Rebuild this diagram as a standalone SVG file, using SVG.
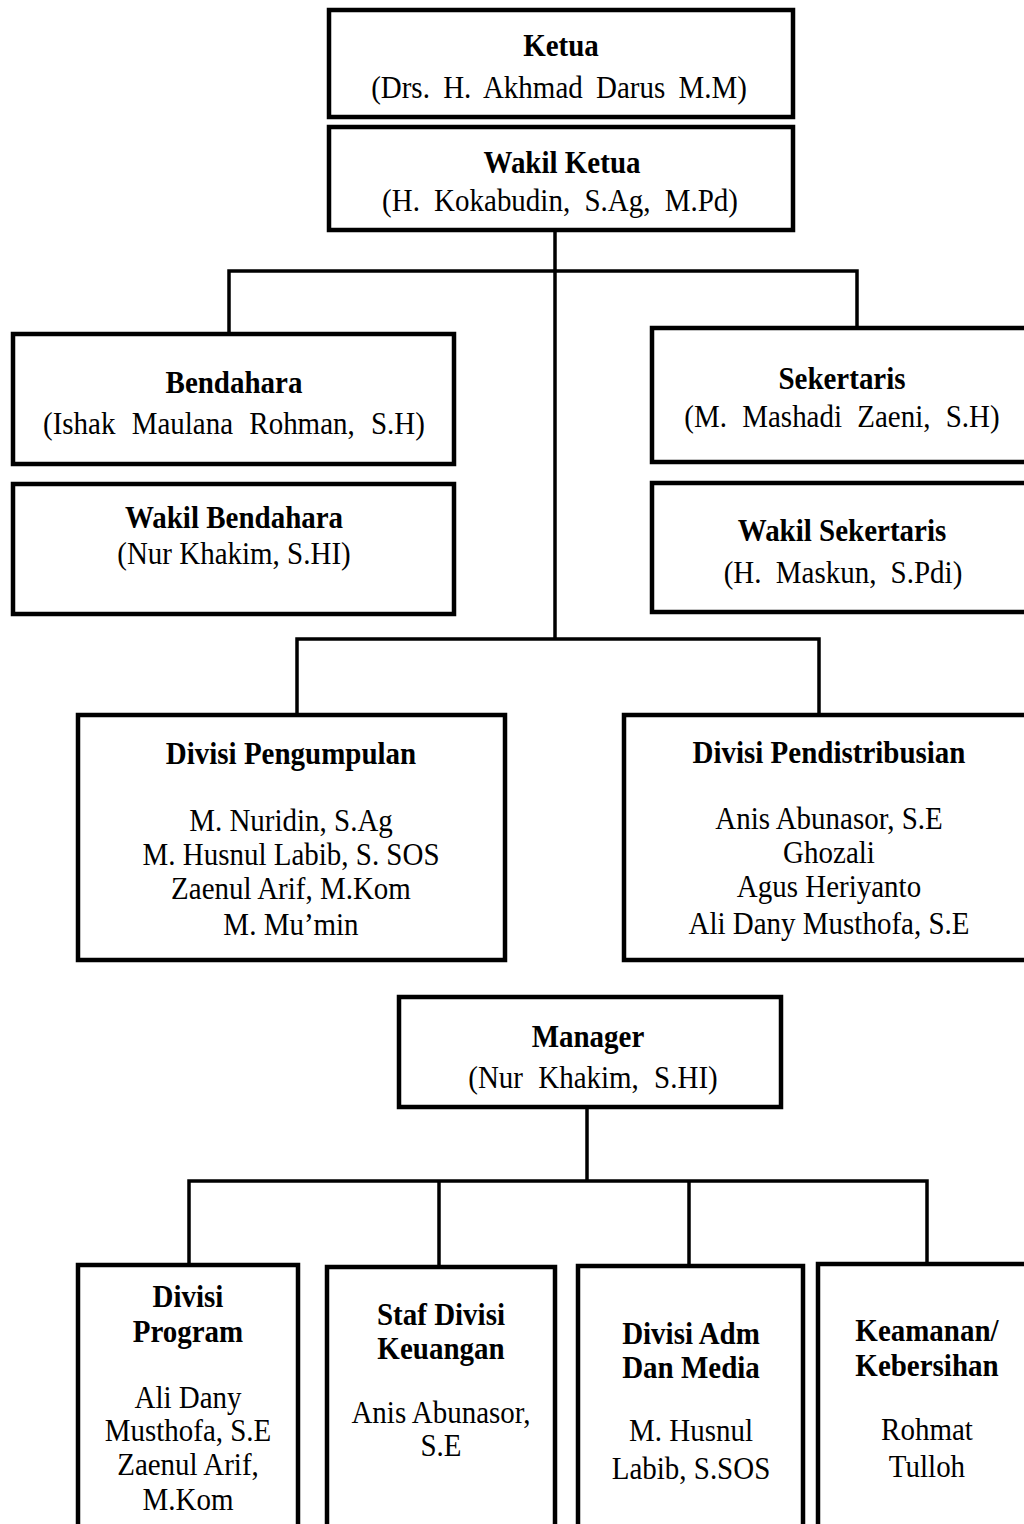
<svg xmlns="http://www.w3.org/2000/svg" width="1024" height="1524" viewBox="0 0 1024 1524">
  <style>
    .box { fill: #ffffff; stroke: #000000; stroke-width: 4.5; }
    .link { fill: none; stroke: #000000; stroke-width: 3.5; }
    text { font-family: "Liberation Serif", "Times New Roman", serif; font-size: 29px; fill: #000000; text-anchor: middle;
           transform-box: fill-box; transform-origin: center bottom; transform: translateY(1.5px) scaleY(1.12); }
    .t { font-weight: bold; }
  </style>
  <rect width="1024" height="1524" fill="#ffffff"/>

  <!-- connectors -->
  <g id="connectors">
    <path class="link" d="M555 230 V639"/>
    <path class="link" d="M229 334 V271 H857 V328"/>
    <path class="link" d="M297 715 V639 H819 V715"/>
    <path class="link" d="M587 1107 V1181"/>
    <path class="link" d="M189 1265 V1181 H927 V1264"/>
    <path class="link" d="M439 1181 V1267"/>
    <path class="link" d="M689 1181 V1266"/>
  </g>

  <g id="ketua">
    <rect class="box" x="329" y="10" width="464" height="107"/>
    <text class="t" x="561" y="55">Ketua</text>
    <text x="559" y="97" style="word-spacing:6px">(Drs. H. Akhmad Darus M.M)</text>
  </g>

  <g id="wakil-ketua">
    <rect class="box" x="329" y="127" width="464" height="103"/>
    <text class="t" x="562" y="172">Wakil Ketua</text>
    <text x="560" y="210" style="word-spacing:7px">(H. Kokabudin, S.Ag, M.Pd)</text>
  </g>

  <g id="bendahara">
    <rect class="box" x="13" y="334" width="441" height="130"/>
    <text class="t" x="234" y="392">Bendahara</text>
    <text x="234" y="433" style="word-spacing:9px">(Ishak Maulana Rohman, S.H)</text>
  </g>

  <g id="wakil-bendahara">
    <rect class="box" x="13" y="484" width="441" height="130"/>
    <text class="t" x="234" y="527">Wakil Bendahara</text>
    <text x="234" y="563">(Nur Khakim, S.HI)</text>
  </g>

  <g id="sekertaris">
    <rect class="box" x="652" y="328" width="380" height="134"/>
    <text class="t" x="842" y="388">Sekertaris</text>
    <text x="842" y="426" style="word-spacing:8px">(M. Mashadi Zaeni, S.H)</text>
  </g>

  <g id="wakil-sekertaris">
    <rect class="box" x="652" y="483" width="380" height="129"/>
    <text class="t" x="842" y="540">Wakil Sekertaris</text>
    <text x="843" y="582" style="word-spacing:7px">(H. Maskun, S.Pdi)</text>
  </g>

  <g id="divisi-pengumpulan">
    <rect class="box" x="78" y="715" width="427" height="245"/>
    <text class="t" x="291" y="763">Divisi Pengumpulan</text>
    <text x="291" y="830">M. Nuridin, S.Ag</text>
    <text x="291" y="864">M. Husnul Labib, S. SOS</text>
    <text x="291" y="898">Zaenul Arif, M.Kom</text>
    <text x="291" y="934">M. Mu’min</text>
  </g>

  <g id="divisi-pendistribusian">
    <rect class="box" x="624" y="715" width="410" height="245"/>
    <text class="t" x="829" y="762">Divisi Pendistribusian</text>
    <text x="829" y="828">Anis Abunasor, S.E</text>
    <text x="829" y="862">Ghozali</text>
    <text x="829" y="896">Agus Heriyanto</text>
    <text x="829" y="933">Ali Dany Musthofa, S.E</text>
  </g>

  <g id="manager">
    <rect class="box" x="399" y="997" width="382" height="110"/>
    <text class="t" x="588" y="1046">Manager</text>
    <text x="593" y="1087" style="word-spacing:8px">(Nur Khakim, S.HI)</text>
  </g>

  <g id="divisi-program">
    <rect class="box" x="78" y="1265" width="220" height="290"/>
    <text class="t" x="188" y="1306">Divisi</text>
    <text class="t" x="188" y="1341">Program</text>
    <text x="188" y="1407">Ali Dany</text>
    <text x="188" y="1440">Musthofa, S.E</text>
    <text x="188" y="1474">Zaenul Arif,</text>
    <text x="188" y="1509">M.Kom</text>
  </g>

  <g id="staf-divisi-keuangan">
    <rect class="box" x="327" y="1267" width="228" height="290"/>
    <text class="t" x="441" y="1324">Staf Divisi</text>
    <text class="t" x="441" y="1358">Keuangan</text>
    <text x="441" y="1422">Anis Abunasor,</text>
    <text x="441" y="1455">S.E</text>
  </g>

  <g id="divisi-adm-media">
    <rect class="box" x="578" y="1266" width="225" height="290"/>
    <text class="t" x="691" y="1343">Divisi Adm</text>
    <text class="t" x="691" y="1377">Dan Media</text>
    <text x="691" y="1440">M. Husnul</text>
    <text x="691" y="1478">Labib, S.SOS</text>
  </g>

  <g id="keamanan-kebersihan">
    <rect class="box" x="818" y="1264" width="220" height="290"/>
    <text class="t" x="927" y="1340">Keamanan/</text>
    <text class="t" x="927" y="1375">Kebersihan</text>
    <text x="927" y="1439">Rohmat</text>
    <text x="927" y="1476">Tulloh</text>
  </g>
</svg>
